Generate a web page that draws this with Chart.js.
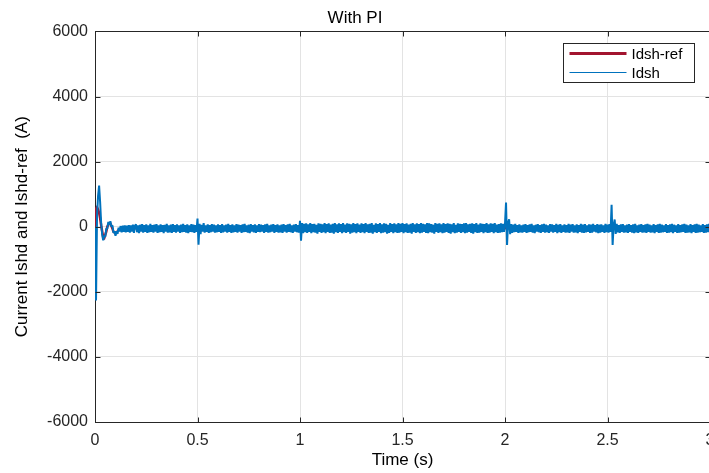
<!DOCTYPE html>
<html>
<head>
<meta charset="utf-8">
<title>With PI</title>
<script src="https://cdn.jsdelivr.net/npm/chart.js@4/dist/chart.umd.min.js"></script>
<style>
  html, body { margin: 0; padding: 0; background: #ffffff; overflow: hidden; }
  #wrap { width: 740px; height: 473px; }
</style>
</head>
<body>
<div id="wrap"><canvas id="chart" width="740" height="473"></canvas></div>
<script>
// Shunt d-axis current under PI control, sampled every 5 ms from t = 0 s to t = 3 s.
const SAMPLE_PERIOD = 0.005;
const idsh = [
  0, -2270, 350, 950, 1260, 760, 120, -240, -420, -280, -310, -60, -60, 150, 60, 170, 0, 40, -190, -140,
  -280, -140, -220, -30, -150, 20, -170, 30, -160, 40, -170, 30, -160, 50, -180, 40, -150, 60, -190, 30,
  70, -170, 40, -200, 60, -150, 80, -180, 50, -160, 70, -190, 40, -170, 90, -160, 50, -180, 60, -150,
  80, -190, 40, -170, 70, -160, 50, -200, 60, -150, 90, -180, 40, -170, 60, -190, 80, -160, 50, -180,
  70, -150, 40, -190, 60, -170, 90, -160, 50, -180, 70, -200, 40, -160, 80, -170, 60, -190, 50, -160,
  250, -550, 90, -230, 60, -150, 110, -180, 40, -160, 70, -190, 50, -170, 80, -150, 60, -180, 40, -170,
  70, -160, 50, -190, 80, -170, 40, -150, 60, -180, 90, -160, 50, -190, 70, -170, 40, -160, 80, -180,
  60, -150, 50, -190, 70, -170, 90, -160, 40, -180, 60, -200, 80, -150, 50, -170, 70, -190, 40, -160,
  80, -170, 60, -150, 50, -190, 70, -160, 90, -180, 40, -170, 60, -150, 80, -190, 50, -160, 70, -180,
  40, -170, 60, -190, 80, -150, 50, -180, 70, -160, 90, -170, 40, -190, 60, -150, 80, -170, 50, -180,
  180, -430, 110, -200, 90, -170, 100, -190, 70, -160, 110, -200, 80, -170, 90, -180, 60, -210, 100, -160,
  90, -190, 70, -170, 110, -200, 80, -160, 100, -190, 60, -180, 90, -210, 110, -170, 70, -190, 100, -160,
  80, -200, 110, -170, 60, -190, 100, -160, 90, -210, 70, -180, 110, -170, 80, -200, 100, -160, 60, -190,
  100, -170, 80, -200, 110, -160, 70, -190, 90, -180, 110, -210, 60, -170, 100, -190, 80, -160, 110, -200,
  70, -180, 100, -170, 90, -210, 60, -190, 110, -160, 80, -200, 100, -170, 70, -190, 110, -180, 90, -160,
  110, -200, 80, -170, 100, -190, 60, -180, 90, -210, 110, -160, 70, -190, 100, -170, 80, -200, 110, -180,
  90, -160, 70, -190, 110, -200, 100, -170, 80, -180, 60, -210, 110, -160, 90, -190, 100, -170, 70, -200,
  110, -180, 80, -160, 100, -190, 90, -210, 70, -170, 110, -200, 60, -180, 100, -160, 90, -190, 80, -170,
  100, -200, 110, -180, 70, -160, 90, -190, 100, -210, 80, -170, 110, -190, 60, -180, 100, -160, 90, -200,
  80, -170, 110, -190, 70, -180, 100, -160, 90, -200, 110, -170, 60, -190, 80, -180, 100, -170, 90, -160,
  90, 740, -560, 120, 230, -230, 80, -190, 60, -170, 90, -160, 50, -190, 70, -170, 40, -180, 60, -160,
  80, -190, 50, -170, 70, -160, 90, -180, 40, -200, 60, -150, 80, -170, 50, -190, 70, -160, 90, -180,
  60, -170, 40, -190, 80, -150, 70, -180, 50, -160, 90, -200, 60, -170, 80, -190, 40, -160, 70, -180,
  50, -170, 90, -190, 60, -150, 80, -180, 40, -170, 70, -200, 50, -160, 90, -180, 60, -190, 80, -170,
  40, -160, 70, -190, 60, -180, 90, -150, 50, -170, 80, -200, 60, -180, 70, -160, 40, -190, 90, -170,
  60, -180, 80, -160, 675, -560, 60, 220, -220, 90, -170, 50, -190, 70, -160, 80, -180, 40, -170, 60,
  -190, 80, -160, 50, -180, 70, -200, 90, -170, 40, -190, 60, -160, 80, -180, 50, -170, 70, -190, 90,
  -160, 60, -180, 40, -170, 80, -200, 50, -160, 70, -190, 90, -180, 60, -170, 40, -160, 80, -190, 50,
  -180, 70, -170, 90, -200, 60, -160, 40, -190, 80, -180, 50, -170, 70, -160, 90, -190, 60, -180, 40,
  -170, 80, -200, 50, -160, 70, -190, 90, -180, 60, -170, 40, -160, 80, -190, 50, -180, 70, -170, 90,
  -160
];

// Reference current: start-up overshoot, settling, then held for the rest of the run.
const refTime  = [0, 0.005, 0.01, 0.015, 0.02, 0.025, 0.03, 0.035, 0.04, 0.045, 0.05, 0.055, 0.06, 0.065, 0.07, 0.075, 0.08, 0.085, 0.09, 0.1, 0.11, 0.12, 0.13, 3.0];
const refValue = [0, 550, 600, 520, 430, 260, 40, -140, -330, -350, -250, -150, 0, 60, 110, 100, 30, -60, -150, -210, -140, -70, -50, -40];

const seriesNames = ['Idsh-ref', 'Idsh'];
const xTickValues = [0, 0.5, 1, 1.5, 2, 2.5, 3];
const xTickLabels = ['0', '0.5', '1', '1.5', '2', '2.5', '3'];
const yTickValues = [-6000, -4000, -2000, 0, 2000, 4000, 6000];
const yTickLabels = ['-6000', '-4000', '-2000', '0', '2000', '4000', '6000'];

const FONT = "'Liberation Sans', Arial, Helvetica, sans-serif";
const AXIS_COLOR = '#262626';
const GRID_COLOR = '#e3e3e3';
const RED = '#A2142F';
const BLUE = '#0072BD';

const idshPoints = idsh.map((v, i) => ({ x: i * SAMPLE_PERIOD, y: v }));
const refPoints = refTime.map((t, i) => ({ x: t, y: refValue[i] }));

function crisp(v) { return Math.round(v) + 0.5; }

// Box outline, inward tick marks and the boxed legend.
const axesFrame = {
  id: 'axesFrame',
  afterDraw(chart) {
    const { ctx, chartArea: a, scales } = chart;
    const xs = scales.x, ys = scales.y;
    const L = crisp(a.left), R = crisp(a.right), T = crisp(a.top), B = crisp(a.bottom);
    const tick = 5;
    ctx.save();
    ctx.strokeStyle = AXIS_COLOR;
    ctx.lineWidth = 1;
    ctx.beginPath();
    ctx.moveTo(L, T); ctx.lineTo(R, T); ctx.lineTo(R, B);
    xTickValues.forEach(v => {
      const px = crisp(xs.getPixelForValue(v));
      ctx.moveTo(px, B); ctx.lineTo(px, B - tick);
      ctx.moveTo(px, T); ctx.lineTo(px, T + tick);
    });
    yTickValues.forEach(v => {
      const py = crisp(ys.getPixelForValue(v));
      ctx.moveTo(L, py); ctx.lineTo(L + tick, py);
      ctx.moveTo(R, py); ctx.lineTo(R - tick, py);
    });
    ctx.stroke();

    // legend
    const bw = 131, bh = 39;
    const bx = crisp(a.right - 147), by = crisp(a.top + 12);
    ctx.fillStyle = '#ffffff';
    ctx.fillRect(bx, by, bw, bh);
    ctx.strokeStyle = AXIS_COLOR;
    ctx.lineWidth = 1;
    ctx.strokeRect(bx, by, bw, bh);
    chart.data.datasets.forEach((ds, i) => {
      const ly = by + 10 + i * 19;
      ctx.beginPath();
      ctx.strokeStyle = ds.borderColor;
      ctx.lineWidth = i === 0 ? 3 : 1;
      ctx.moveTo(bx + 6, ly); ctx.lineTo(bx + 63, ly);
      ctx.stroke();
      ctx.fillStyle = '#000000';
      ctx.font = '15px ' + FONT;
      ctx.textBaseline = 'middle';
      ctx.textAlign = 'left';
      ctx.fillText(ds.label, bx + 68, ly + 1);
    });
    ctx.restore();
  }
};

new Chart(document.getElementById('chart'), {
  type: 'line',
  data: {
    datasets: [
      { label: seriesNames[0], data: refPoints, borderColor: RED, borderWidth: 2.5, order: 1 },
      { label: seriesNames[1], data: idshPoints, borderColor: BLUE, borderWidth: 2, borderJoinStyle: 'bevel', order: 0 }
    ]
  },
  options: {
    responsive: false,
    devicePixelRatio: 1,
    animation: false,
    parsing: false,
    normalized: true,
    elements: { point: { radius: 0 }, line: { tension: 0, borderCapStyle: 'butt' } },
    layout: { padding: { left: 0, right: 30, top: 0, bottom: 0 } },
    plugins: {
      legend: { display: false },
      tooltip: { enabled: false },
      title: {
        display: true,
        text: 'With PI',
        color: '#000000',
        font: { family: FONT, size: 17, weight: 'normal' },
        padding: { top: 8, bottom: 3 }
      }
    },
    scales: {
      x: {
        type: 'linear',
        min: 0, max: 3,
        afterBuildTicks: s => { s.ticks = xTickValues.map(v => ({ value: v })); },
        afterFit: s => { s.height = 51; },
        ticks: {
          callback: v => xTickLabels[xTickValues.indexOf(v)],
          color: AXIS_COLOR,
          font: { family: FONT, size: 16 },
          padding: 9,
          maxRotation: 0,
          autoSkip: false
        },
        grid: { color: GRID_COLOR, lineWidth: 1, drawTicks: false },
        border: { display: true, color: AXIS_COLOR, width: 1 },
        title: {
          display: true,
          text: 'Time (s)',
          color: '#000000',
          font: { family: FONT, size: 17 },
          padding: { top: 0, bottom: 2 }
        }
      },
      y: {
        type: 'linear',
        min: -6000, max: 6000,
        afterBuildTicks: s => { s.ticks = yTickValues.map(v => ({ value: v })); },
        afterFit: s => { s.width = 95; },
        ticks: {
          callback: v => yTickLabels[yTickValues.indexOf(v)],
          color: AXIS_COLOR,
          font: { family: FONT, size: 16 },
          padding: 7,
          autoSkip: false
        },
        grid: { color: GRID_COLOR, lineWidth: 1, drawTicks: false },
        border: { display: true, color: AXIS_COLOR, width: 1 },
        title: {
          display: true,
          text: 'Current Ishd and Ishd-ref  (A)',
          color: '#000000',
          font: { family: FONT, size: 17 },
          padding: { top: 12, bottom: 0 }
        }
      }
    }
  },
  plugins: [axesFrame]
});
</script>
</body>
</html>
